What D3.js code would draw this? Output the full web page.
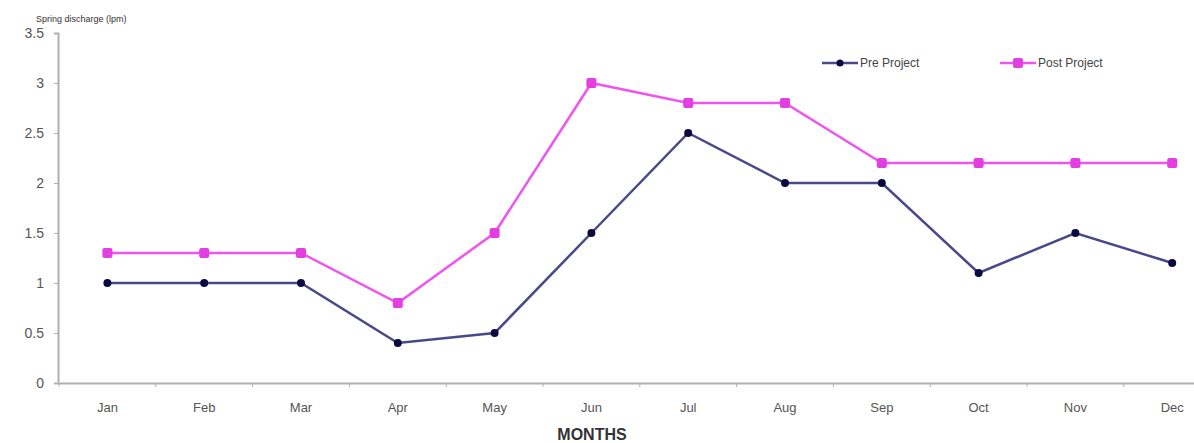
<!DOCTYPE html>
<html><head><meta charset="utf-8">
<script src="https://cdn.jsdelivr.net/npm/d3@7"></script>
<style>body{margin:0;background:#fff;}svg{display:block;font-family:"Liberation Sans",Arial,sans-serif;}</style>
</head><body><svg id="c" width="1194" height="443"></svg>
<script>
const months = ["Jan","Feb","Mar","Apr","May","Jun","Jul","Aug","Sep","Oct","Nov","Dec"];
const preProject = [1,1,1,0.4,0.5,1.5,2.5,2,2,1.1,1.5,1.2];
const postProject = [1.3,1.3,1.3,0.8,1.5,3,2.8,2.8,2.2,2.2,2.2,2.2];
const yTicks = [0,0.5,1,1.5,2,2.5,3,3.5];

const svg = d3.select("#c");
const x = d3.scaleBand().domain(months).range([59, 59+12*96.8]);
const y = d3.scaleLinear().domain([0,3.5]).range([383,33]);
const axisCol = "#b0b0b0", txtCol = "#555";

// y axis
const ya = svg.append("g").attr("transform","translate(58,0)")
  .call(d3.axisLeft(y).tickValues(yTicks).tickSize(4).tickFormat(d=>String(d)));
ya.select(".domain").attr("stroke",axisCol).attr("stroke-width",2);
ya.selectAll(".tick line").attr("stroke",axisCol);
ya.selectAll(".tick text").attr("fill",txtCol).attr("font-size",14).attr("x",-14);

// x axis
const xa = svg.append("g").attr("transform","translate(0,383)")
  .call(d3.axisBottom(x).tickSize(0).tickSizeOuter(0));
xa.select(".domain").attr("stroke",axisCol).attr("stroke-width",2);
xa.selectAll(".tick text").attr("fill",txtCol).attr("font-size",13).attr("dy","2.0em");
svg.append("g").selectAll("line").data(months).join("line")
  .attr("x1",d=>x(d)).attr("x2",d=>x(d)).attr("y1",383).attr("y2",387).attr("stroke",axisCol);

// lines
const line = d3.line().x((d,i)=>x(months[i])+x.bandwidth()/2).y(d=>y(d));
svg.append("path").datum(postProject).attr("d",line).attr("fill","none").attr("stroke","#ee55ee").attr("stroke-width",2.5);
svg.append("path").datum(preProject).attr("d",line).attr("fill","none").attr("stroke","#48488a").attr("stroke-width",2.5);
svg.append("g").selectAll("rect").data(postProject).join("rect")
  .attr("x",(d,i)=>x(months[i])+x.bandwidth()/2-5).attr("y",d=>y(d)-5).attr("width",10).attr("height",10).attr("rx",2)
  .attr("fill","#e23ee2");
svg.append("g").selectAll("circle").data(preProject).join("circle")
  .attr("cx",(d,i)=>x(months[i])+x.bandwidth()/2).attr("cy",d=>y(d)).attr("r",4).attr("fill","#0a0a40");

// legend
const lg = svg.append("g");
lg.append("line").attr("x1",822).attr("x2",858).attr("y1",63).attr("y2",63).attr("stroke","#48488a").attr("stroke-width",2.5);
lg.append("circle").attr("cx",840).attr("cy",63).attr("r",3.5).attr("fill","#0a0a40");
lg.append("text").attr("x",860).attr("y",67).attr("font-size",12).attr("fill","#444").text("Pre Project");
lg.append("line").attr("x1",1000).attr("x2",1036).attr("y1",63).attr("y2",63).attr("stroke","#ee55ee").attr("stroke-width",2.5);
lg.append("rect").attr("x",1013).attr("y",58).attr("width",10).attr("height",10).attr("rx",2).attr("fill","#e23ee2");
lg.append("text").attr("x",1038).attr("y",67).attr("font-size",12).attr("fill","#444").text("Post Project");

// titles
svg.append("text").attr("x",36).attr("y",22).attr("font-size",9).attr("fill","#333").text("Spring discharge (lpm)");
svg.append("text").attr("x",592).attr("y",440).attr("text-anchor","middle").attr("font-size",16).attr("font-weight","bold").attr("fill","#333").text("MONTHS");
</script></body></html>
